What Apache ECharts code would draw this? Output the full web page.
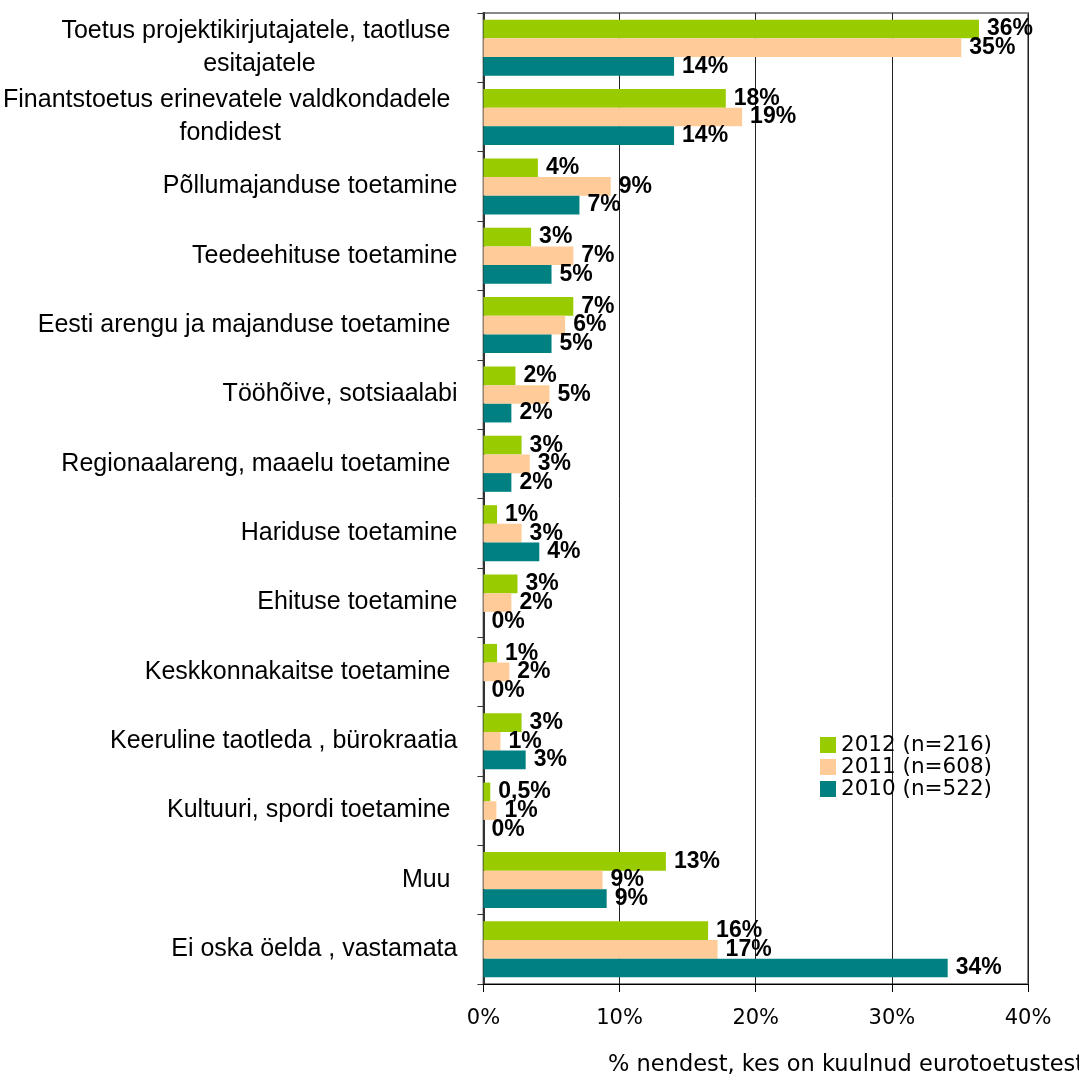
<!DOCTYPE html>
<html>
<head>
<meta charset="utf-8">
<script src="https://cdn.jsdelivr.net/npm/echarts@6/dist/echarts.min.js"></script>
<style>
  html, body { margin: 0; padding: 0; background: #fff; }
  #chart { width: 1079px; height: 1077px; }
</style>
</head>
<body>
<div id="chart"></div>
<script>
// kategooriad (ülevalt alla)
const categories = [
  'Toetus projektikirjutajatele, taotluse \nesitajatele',
  'Finantstoetus erinevatele valdkondadele \nfondidest',
  'Põllumajanduse toetamine',
  'Teedeehituse toetamine',
  'Eesti arengu ja majanduse toetamine ',
  'Tööhõive, sotsiaalabi',
  'Regionaalareng, maaelu toetamine ',
  'Hariduse toetamine',
  'Ehituse toetamine',
  'Keskkonnakaitse toetamine ',
  'Keeruline taotleda , bürokraatia',
  'Kultuuri, spordi toetamine ',
  'Muu ',
  'Ei oska öelda , vastamata'
];

const seriesNames = ['2012 (n=216)', '2011 (n=608)', '2010 (n=522)'];

// väärtused (%)
const values2012 = [36.4, 17.8, 4.0, 3.5, 6.6, 2.35, 2.8, 1.0, 2.5, 1.0, 2.8, 0.5, 13.4, 16.5];
const values2011 = [35.1, 19.0, 9.35, 6.6, 6.0, 4.85, 3.4, 2.8, 2.05, 1.9, 1.25, 0.95, 8.75, 17.2];
const values2010 = [14.0, 14.0, 7.05, 5.0, 5.0, 2.05, 2.05, 4.1, 0, 0, 3.1, 0, 9.05, 34.1];

// sildid tulpade kõrval
const labels2012 = ['36%', '18%', '4%', '3%', '7%', '2%', '3%', '1%', '3%', '1%', '3%', '0,5%', '13%', '16%'];
const labels2011 = ['35%', '19%', '9%', '7%', '6%', '5%', '3%', '3%', '2%', '2%', '1%', '1%', '9%', '17%'];
const labels2010 = ['14%', '14%', '7%', '5%', '5%', '2%', '2%', '4%', '0%', '0%', '3%', '0%', '9%', '34%'];

const xMin = 0;
const xMax = 40;
const xInterval = 10;
const axisTitle = '% nendest, kes on kuulnud eurotoetustest';

const colors = ['#99CC00', '#FFCC99', '#008080'];

function makeSeries(name, values, labels, color) {
  return {
    name: name,
    type: 'bar',
    data: values,
    barGap: '0%',
    barCategoryGap: '19.3%',
    itemStyle: { color: color },
    label: {
      show: true,
      position: 'right',
      distance: 8,
      color: '#000',
      fontFamily: 'Liberation Sans',
      fontWeight: 'bold',
      fontSize: 23,
      formatter: function (p) { return labels[p.dataIndex]; }
    },
    emphasis: { disabled: true }
  };
}

let myChart = echarts.init(document.getElementById('chart'));
let option = {
  animation: false,
  color: colors,
  title: {
    text: axisTitle,
    left: 608,
    top: 1054,
    padding: 0,
    textStyle: {
      fontFamily: 'DejaVu Sans',
      fontSize: 22.5,
      fontWeight: 'normal',
      color: '#000'
    }
  },
  legend: {
    orient: 'vertical',
    left: 820,
    top: 734,
    itemWidth: 16,
    itemHeight: 16,
    itemGap: 0,
    icon: 'rect',
    padding: 0,
    data: seriesNames,
    textStyle: {
      fontFamily: 'DejaVu Sans',
      fontSize: 21.5,
      lineHeight: 22,
      color: '#000'
    }
  },
  grid: {
    left: 483,
    right: 51,
    top: 13,
    bottom: 93,
    show: true,
    borderColor: '#888',
    borderWidth: 2,
    backgroundColor: 'transparent'
  },
  xAxis: {
    type: 'value',
    min: xMin,
    max: xMax,
    interval: xInterval,
    axisLine: { show: true, lineStyle: { color: '#000', width: 1 } },
    axisTick: { show: true, length: 8, lineStyle: { color: '#000' } },
    splitLine: { show: true, lineStyle: { color: '#222', width: 1 } },
    axisLabel: {
      margin: 24,
      fontFamily: 'DejaVu Sans',
      fontSize: 21,
      color: '#000',
      formatter: '{value}%'
    }
  },
  yAxis: {
    type: 'category',
    inverse: true,
    data: categories,
    axisLine: { show: true, lineStyle: { color: '#333', width: 2 } },
    axisTick: { show: true, length: 6, lineStyle: { color: '#333' } },
    axisLabel: {
      margin: 26,
      color: '#000',
      formatter: function (v) {
        return v.split('\n').map(function (s) { return '{c|' + s + '}'; }).join('\n');
      },
      rich: {
        c: {
          fontFamily: 'Liberation Sans',
          fontSize: 25,
          lineHeight: 33,
          color: '#000',
          align: 'center'
        }
      }
    }
  },
  series: [
    makeSeries(seriesNames[0], values2012, labels2012, colors[0]),
    makeSeries(seriesNames[1], values2011, labels2011, colors[1]),
    makeSeries(seriesNames[2], values2010, labels2010, colors[2])
  ]
};

myChart.setOption(option);
</script>
</body>
</html>
